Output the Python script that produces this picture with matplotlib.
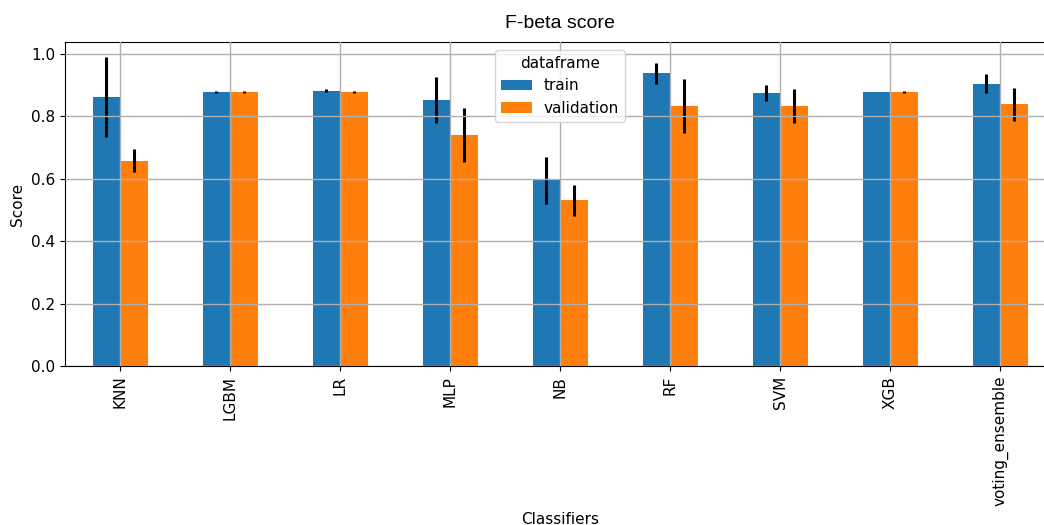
import matplotlib
matplotlib.use("Agg")
import matplotlib.pyplot as plt
import pandas as pd

classifiers = ["KNN", "LGBM", "LR", "MLP", "NB", "RF", "SVM", "XGB", "voting_ensemble"]
train_mean = [0.862, 0.878, 0.882, 0.852, 0.595, 0.938, 0.875, 0.878, 0.905]
train_std = [0.127, 0.002, 0.004, 0.074, 0.076, 0.033, 0.025, 0.001, 0.031]
val_mean = [0.657, 0.878, 0.878, 0.740, 0.531, 0.834, 0.833, 0.878, 0.838]
val_std = [0.037, 0.004, 0.004, 0.088, 0.050, 0.086, 0.053, 0.004, 0.052]


def main():
    plt.rcParams["font.size"] = 11

    means = pd.DataFrame({"train": train_mean, "validation": val_mean},
                         index=pd.Index(classifiers, name="Classifiers"))
    means.columns.name = "dataframe"
    errs = pd.DataFrame({"train": train_std, "validation": val_std},
                        index=means.index)
    errs.columns.name = "dataframe"

    fig = plt.figure(figsize=(10.44, 5.25), dpi=100)
    ax = fig.add_axes([65 / 1044, 159 / 525, 990 / 1044, 324 / 525])
    means.plot.bar(ax=ax, yerr=errs, error_kw=dict(elinewidth=2.2, ecolor="black"))

    ax.set_ylim(0, 1.038)
    ax.set_xlim(-0.5, 8.5)
    ax.grid(True)
    ax.set_axisbelow(False)
    for line in ax.get_xgridlines() + ax.get_ygridlines():
        line.set_color("#b0b0b0")
        line.set_linewidth(1.0)
    ax.spines["right"].set_visible(False)
    ax.set_title("F-beta score", fontsize=14, family="Liberation Sans", pad=10)
    ax.set_ylabel("Score")
    ax.set_xlabel("Classifiers")
    ax.legend(title="dataframe", loc="upper center", fontsize=11, title_fontsize=11)

    fig.savefig("out.png", dpi=100)


if __name__ == '__main__':
    main()
